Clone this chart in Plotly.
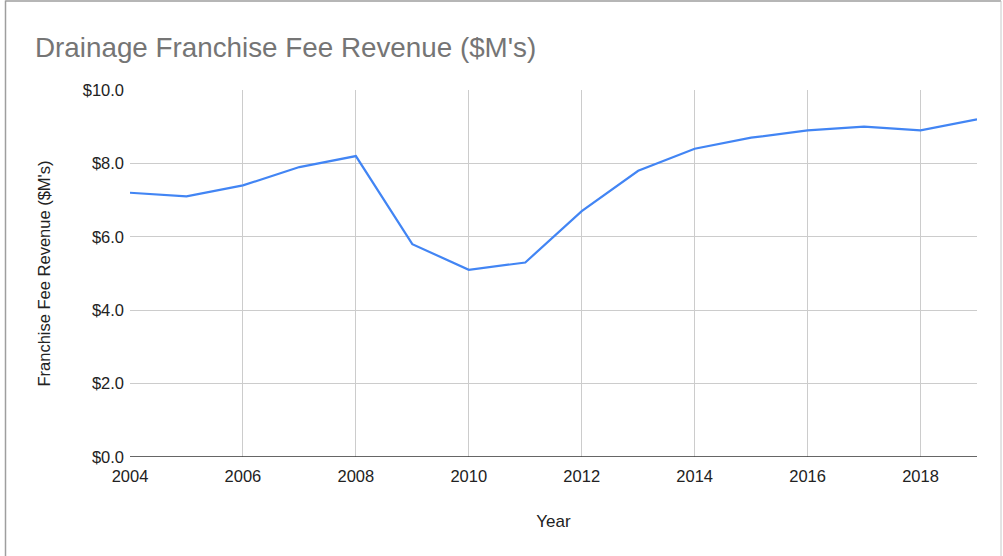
import plotly.graph_objects as go

years = list(range(2004, 2020))
revenue = [7.2, 7.1, 7.4, 7.9, 8.2, 5.8, 5.1, 5.3, 6.7, 7.8, 8.4, 8.7, 8.9, 9.0, 8.9, 9.2]
y_ticks = [0, 2, 4, 6, 8, 10]
y_tick_labels = ["$0.0", "$2.0", "$4.0", "$6.0", "$8.0", "$10.0"]
x_ticks = [2004, 2006, 2008, 2010, 2012, 2014, 2016, 2018]

W, H = 1003, 556
L, R, T, B = 130, 26, 90, 99
pw, ph = W - L - R, H - T - B

def px(x):
    return (x - L) / pw

def py(y):
    return (H - B - y) / ph

fig = go.Figure()
fig.add_trace(go.Scatter(
    x=years, y=revenue, mode="lines",
    line=dict(color="#4285F4", width=2.2),
    showlegend=False,
))

font = "Liberation Sans, Arial, sans-serif"
fig.update_layout(
    width=W, height=H,
    margin=dict(l=L, r=R, t=T, b=B),
    paper_bgcolor="white", plot_bgcolor="white",
    font=dict(family=font, color="#222222", size=17),
    title=dict(
        text="Drainage Franchise Fee Revenue ($M's)",
        font=dict(family=font, size=27.8, color="#757575"),
        x=35 / W, xanchor="left", y=1 - 47 / H, yanchor="middle",
    ),
    xaxis=dict(
        range=[2004, 2019], tickvals=x_ticks, ticktext=[str(v) for v in x_ticks],
        showgrid=True, gridcolor="#cccccc", gridwidth=1,
        zeroline=False, showline=False, ticks="",
        ticklabelstandoff=7,
        tickfont=dict(size=16.5, color="#222222"),
        title=dict(text="Year", font=dict(size=17, color="#222222"), standoff=31),
    ),
    yaxis=dict(
        range=[0, 10], tickvals=y_ticks, ticktext=y_tick_labels,
        showgrid=True, gridcolor="#cccccc", gridwidth=1,
        zeroline=False, showline=False, ticks="",
        ticklabelstandoff=5,
        tickfont=dict(size=16.5, color="#222222"),
        title=dict(text="Franchise Fee Revenue ($M's)", font=dict(size=16.5, color="#222222"), standoff=27),
    ),
    shapes=[
        dict(type="line", xref="paper", yref="y", x0=0, x1=1, y0=0, y1=0,
             line=dict(color="#333333", width=1.5)),
        dict(type="line", xref="paper", yref="paper", x0=px(5.5), x1=px(5.5), y0=py(0.5), y1=py(H + 5),
             line=dict(color="#9e9e9e", width=1.5)),
        dict(type="line", xref="paper", yref="paper", x0=px(5.5), x1=px(1001), y0=py(1), y1=py(1),
             line=dict(color="#9e9e9e", width=1.5)),
        dict(type="line", xref="paper", yref="paper", x0=px(1001), x1=px(1001), y0=py(1), y1=py(H + 5),
             line=dict(color="#c8c8c8", width=1)),
    ],
)

fig.write_html("out.html", config={"displayModeBar": False},
               post_script="document.body.style.margin='0';")
